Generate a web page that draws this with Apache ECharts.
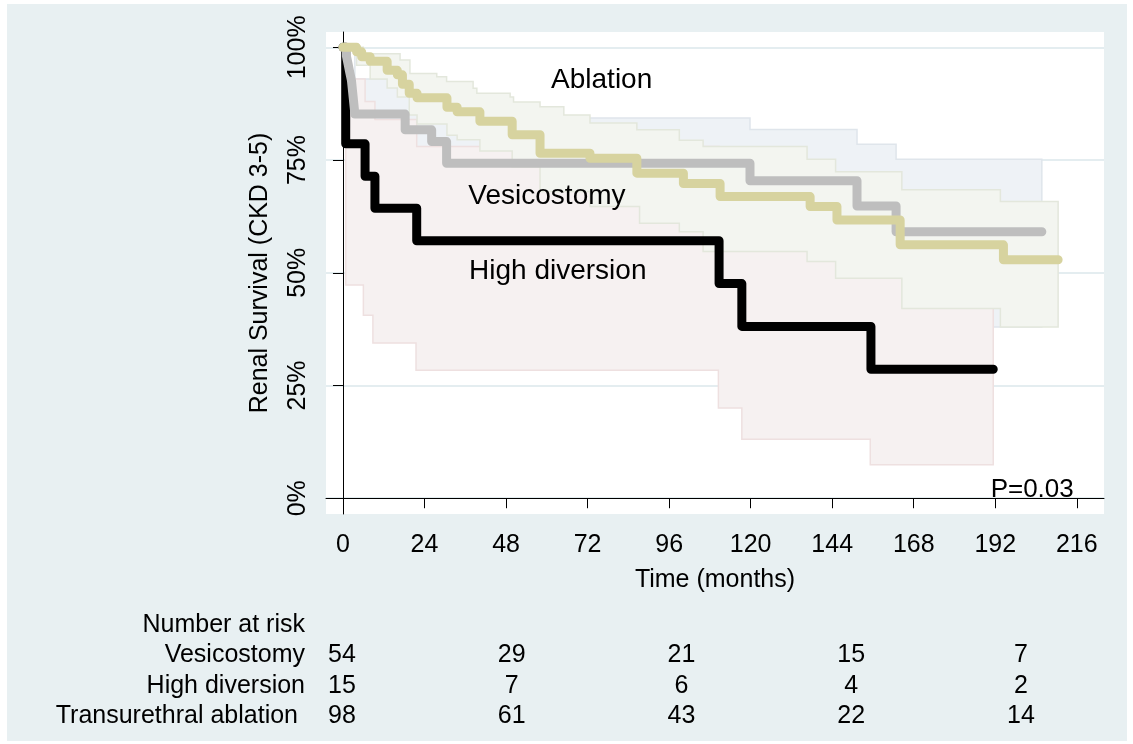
<!DOCTYPE html>
<html><head><meta charset="utf-8">
<script src="https://cdn.jsdelivr.net/npm/echarts@6/dist/echarts.min.js"></script>
<style>html,body{margin:0;padding:0;background:#fff}#c{width:1133px;height:744px}</style>
</head><body><div id="c"></div>
<script>
const xTicks=[0,24,48,72,96,120,144,168,192,216];
const yTicks=[0,25,50,75,100];
// Kaplan-Meier estimates [months, survival %]
const ablationKM=[[0,100],[4,99.0],[5.5,97.9],[8,96.9],[13,94.9],[16,93.9],[17.5,91.8],[19.5,89.8],[21.8,88.8],[30.6,86.7],[33.6,85.7],[40.3,83.6],[49.8,80.6],[58,76.5],[72.7,75.4],[86.5,72.1],[100.2,69.8],[111,66.9],[137.5,64.7],[145.4,61.7],[164,56.2],[194.4,52.9]];
const ablationEnd=210.5;
const vesicoKM=[[0,100],[1,98.1],[1.5,96.3],[2,94.4],[2.5,92.6],[3,88.9],[3.5,85.2],[18.3,81.7],[26.1,79.1],[30.5,74.3],[119.8,70.4],[151.3,64.8],[162.8,59.1]];
const vesicoEnd=205.7;
const highKM=[[0,100],[0.8,78.6],[6.5,71.4],[9.4,64.3],[21.7,57.1],[110.7,47.6],[117.4,38.1],[155.4,28.6]];
const highEnd=191.4;
// 95% confidence bands
const ablationUpper=[[0,100],[6,98.6],[16.8,97.2],[19.7,94.2],[27.6,93.5],[30.5,92.4],[38.3,90.9],[39.4,89.8],[49.2,89.0],[50.2,87.9],[58,86.8],[65,85.0],[72.7,83.2],[86.5,81.7],[99,79.4],[106,78.0],[136.6,75.2],[145,72.4],[164.5,68.4],[193.5,65.8]];
const ablationLower=[[0,100],[4,96],[8,93],[13,91],[16,89],[19.5,85],[21.8,83],[30.6,80.5],[33.6,79.5],[40.3,77],[49.8,73.5],[58,68],[72.7,64.7],[87.3,61],[99,59.1],[106,54.7],[136.6,52.5],[145,48.8],[164.5,42.1],[193.5,38]];
const vesicoUpper=[[0,100],[3.5,93],[18.3,91],[26.1,89],[30.5,84.3],[119.8,81.8],[151.3,78.5],[162.8,75.2]];
const vesicoLower=[[0,100],[3.5,72],[18.3,69],[26.1,66],[30.5,61],[119.8,56],[151.3,49],[162.8,38]];
const highUpper=[[0,100],[0.8,93],[6.5,88],[9.4,84],[21.7,78],[110.7,75],[117.4,68],[155.4,61]];
const highLower=[[0,100],[0.8,47.3],[6,40.6],[8.8,34.4],[21.5,28.4],[110.5,20],[117.4,13.1],[155.2,7.4]];
// Number at risk
const riskTimes=[0,48,96,144,192];
const riskRows=['Number at risk','Vesicostomy','High diversion','Transurethral ablation'];
const riskVesico=[54,29,21,15,7];
const riskHigh=[15,7,6,4,2];
const riskAblation=[98,61,43,22,14];
// In-plot annotations [months, %, text]
const annotLeft=[[61.25,92.6,'Ablation'],[36.9,67.0,'Vesicostomy'],[37.1,50.4,'High diversion']];
const annotRight=[[215.1,1.8,'P=0.03']];

const FONT='"Liberation Sans", Arial, sans-serif';
function withEnd(arr,end){return arr.concat([[end,arr[arr.length-1][1]]]);}
function stepPts(arr,end){const p=[];for(let i=0;i<arr.length;i++){const nx=i+1<arr.length?arr[i+1][0]:end;p.push([arr[i][0],arr[i][1]]);p.push([nx,arr[i][1]]);}return p;}
function band(name,up,lo,end,fill,stroke){
  return {type:'custom',name:name,xAxisIndex:0,yAxisIndex:0,z:1,silent:true,data:[[0,0]],
    renderItem:function(params,api){
      const pts=stepPts(up,end).concat(stepPts(lo,end).reverse()).map(p=>api.coord(p));
      return {type:'polygon',shape:{points:pts},style:{fill:fill,stroke:stroke,lineWidth:1.5}};
    }};
}
function km(name,arr,end,color){
  return {type:'line',name:name,step:'end',xAxisIndex:0,yAxisIndex:0,z:3,symbol:'none',silent:true,
    data:withEnd(arr,end),lineStyle:{color:color,width:9,cap:'round',join:'round'}};
}
const riskData=[];
riskTimes.forEach((t,i)=>{
  riskData.push([t,'Vesicostomy',riskVesico[i]]);
  riskData.push([t,'High diversion',riskHigh[i]]);
  riskData.push([t,'Transurethral ablation',riskAblation[i]]);
});
const txt={color:'#000',fontFamily:FONT,opacity:1};

const chart=echarts.init(document.getElementById('c'),null,{renderer:'canvas'});
chart.setOption({
  animation:false,
  backgroundColor:'#ffffff',
  textStyle:{fontFamily:FONT},
  graphic:[{type:'rect',z:-10,shape:{x:7,y:4,width:1120,height:737},style:{fill:'#e8f0f2'}}],
  grid:[
    {left:326,right:29,top:32,bottom:230,show:true,backgroundColor:'#ffffff',borderWidth:0},
    {left:326,right:29,top:609.75,height:122,show:false}
  ],
  xAxis:[
    {type:'value',gridIndex:0,min:-5,max:224,
     name:'Time (months)',nameLocation:'middle',nameGap:54,
     nameTextStyle:Object.assign({fontSize:25},txt),
     axisLine:{show:true,lineStyle:{color:'#000',width:1}},
     axisTick:{show:true,length:10,customValues:xTicks,lineStyle:{color:'#000'}},
     axisLabel:Object.assign({customValues:xTicks,fontSize:25,margin:19},txt),
     splitLine:{show:false}},
    {type:'value',gridIndex:1,min:-4.5,max:215.5,show:false}
  ],
  yAxis:[
    {type:'value',gridIndex:0,min:-3.5,max:103.4,
     name:'Renal Survival (CKD 3-5)',nameLocation:'middle',nameGap:53,nameRotate:90,
     nameTextStyle:Object.assign({fontSize:25},txt),
     axisLine:{show:true,lineStyle:{color:'#000',width:1}},
     axisTick:{show:true,length:10,customValues:yTicks,lineStyle:{color:'#000'}},
     axisLabel:Object.assign({customValues:yTicks,rotate:90,fontSize:25,margin:15,formatter:v=>v+'%'},txt),
     splitLine:{show:true,lineStyle:{color:'#e4edf0',width:2}}},
    {type:'category',gridIndex:1,inverse:true,data:riskRows,
     axisLine:{show:false},axisTick:{show:false},splitLine:{show:false},
     axisLabel:Object.assign({interval:0,fontSize:25,margin:21,
       formatter:v=>v==='Transurethral ablation'?'{t|'+v+'}':v,
       rich:{t:Object.assign({fontSize:25,padding:[0,7,0,0]},txt)}},txt)}
  ],
  series:[
    band('Vesicostomy CI',vesicoUpper,vesicoLower,vesicoEnd,'#eef2f6','#dfe5eb'),
    band('High diversion CI',highUpper,highLower,highEnd,'#f6f1f1','#eee0e0'),
    band('Ablation CI',ablationUpper,ablationLower,ablationEnd,'#f3f5f0','#e3e7dc'),
    km('High diversion',highKM,highEnd,'#000000'),
    km('Vesicostomy',vesicoKM,vesicoEnd,'#bebebe'),
    km('Ablation',ablationKM,ablationEnd,'#d7d39f'),
    {type:'scatter',xAxisIndex:0,yAxisIndex:0,symbolSize:0,silent:true,z:5,itemStyle:{opacity:1},
     data:annotLeft.map(a=>({value:[a[0],a[1]],name:a[2]})),
     label:Object.assign({show:true,position:[0,0],align:'left',verticalAlign:'middle',formatter:p=>p.name,fontSize:28},txt)},
    {type:'scatter',xAxisIndex:0,yAxisIndex:0,symbolSize:0,silent:true,z:5,itemStyle:{opacity:1},
     data:annotRight.map(a=>({value:[a[0],a[1]],name:a[2]})),
     label:Object.assign({show:true,position:[0,0],align:'right',verticalAlign:'middle',formatter:p=>p.name,fontSize:26},txt)},
    {type:'scatter',xAxisIndex:1,yAxisIndex:1,symbolSize:0,silent:true,itemStyle:{opacity:1},
     data:riskData,
     label:Object.assign({show:true,position:[0,0],align:'center',verticalAlign:'middle',formatter:p=>String(p.value[2]),fontSize:25},txt)}
  ]
});
</script></body></html>
